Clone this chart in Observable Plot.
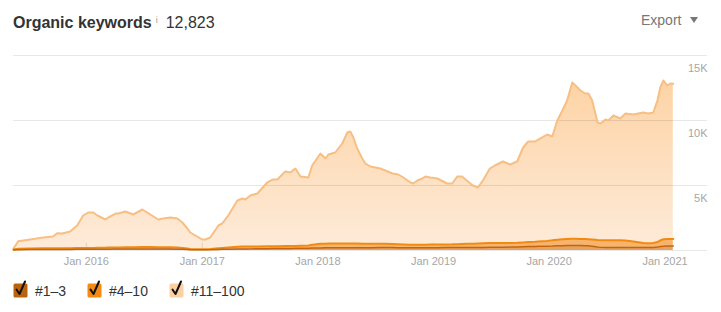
<!DOCTYPE html>
<html>
<head>
<meta charset="utf-8">
<script src="https://cdn.jsdelivr.net/npm/d3@7"></script>
<script src="https://cdn.jsdelivr.net/npm/@observablehq/plot@0.6"></script>
<style>
  html, body { margin: 0; padding: 0; background: #fff; }
  body { width: 721px; height: 312px; position: relative; overflow: hidden;
         font-family: "Liberation Sans", Arial, Helvetica, sans-serif; }
  #header { position: absolute; left: 13px; top: 10px; height: 20px; line-height: 20px; white-space: nowrap; }
  #title { font-size: 16px; font-weight: bold; color: #333; }
  #info { font-size: 9px; color: #999; vertical-align: 5px; margin-left: 4px; }
  #total { font-size: 16px; color: #333; margin-left: 8px; }
  #export { position: absolute; left: 641px; top: 10px; line-height: 20px; font-size: 14px; color: #777; white-space: nowrap; }
  #export svg { margin-left: 9px; vertical-align: 2px; }
  #chart { position: absolute; left: 0; top: 40px; }
  #legend { position: absolute; left: 13px; top: 279px; height: 22px; font-size: 14px; color: #333; }
  .item { position: absolute; top: 0; white-space: nowrap; }
  .item svg { position: absolute; left: 0; top: 0; }
  .item span { position: absolute; top: 4px; line-height: 16px; }
</style>
</head>
<body>
<div id="header"><span id="title">Organic keywords</span><span id="info">i</span><span id="total"></span></div>
<div id="export">Export<svg width="8" height="6"><polygon points="0,0 8,0 4,6" fill="#777"/></svg></div>
<div id="chart"></div>
<div id="legend"></div>
<script>
// ---- data ----
const totalLabel = "12,823";
const seriesNames = ["#1–3", "#4–10", "#11–100"];
const seriesFill = ["#e6a261", "#f7b46c", "url(#g11)"];
const seriesStroke = ["#c4650d", "#f28a12", "#f7bf84"];
const seriesStrokeWidth = [1.5, 2, 2];
const legendBox = ["#b9630f", "#f28a14", "#fcd0a0"];

const dates = [
"2015-05-16","2015-05-31","2015-07-08","2015-08-18","2015-09-18","2015-10-01","2015-10-17","2015-11-11","2015-12-03","2015-12-22",
"2016-01-07","2016-01-23","2016-02-05","2016-03-01","2016-03-10","2016-04-02","2016-04-11","2016-05-03","2016-05-28","2016-06-26",
"2016-07-21","2016-08-15","2016-08-31","2016-09-22","2016-10-14","2016-10-30","2016-11-15","2016-11-24","2016-12-10","2017-01-01",
"2017-01-11","2017-01-26","2017-02-21","2017-03-05","2017-03-24","2017-04-22","2017-05-08","2017-05-17","2017-06-02","2017-06-24",
"2017-07-25","2017-08-11","2017-08-26","2017-09-20","2017-10-06","2017-10-22","2017-11-07","2017-12-02","2017-12-14","2018-01-09",
"2018-01-25","2018-02-03","2018-02-25","2018-03-19","2018-04-04","2018-04-13","2018-04-23","2018-05-05","2018-05-21","2018-05-31",
"2018-06-16","2018-07-17","2018-08-02","2018-08-24","2018-09-12","2018-09-28","2018-10-20","2018-10-29","2018-11-11","2018-11-27",
"2018-12-06","2018-12-22","2019-01-13","2019-02-13","2019-03-01","2019-03-17","2019-04-01","2019-04-16","2019-05-05","2019-05-21",
"2019-06-06","2019-06-28","2019-07-14","2019-08-08","2019-08-31","2019-09-22","2019-10-11","2019-10-27","2019-11-18","2019-11-28",
"2019-12-26","2020-01-11","2020-01-27","2020-02-12","2020-02-27","2020-03-14","2020-03-24","2020-04-09","2020-04-24","2020-05-04",
"2020-05-16","2020-06-02","2020-06-11","2020-06-27","2020-07-06","2020-07-22","2020-08-13","2020-08-29","2020-09-23","2020-10-24",
"2020-11-09","2020-11-25","2020-12-08","2020-12-17","2020-12-27","2021-01-08","2021-01-18","2021-01-27"];

const r1_3 = [
40,50,70,80,80,80,80,85,90,90,
95,95,100,100,105,110,110,115,120,120,
120,115,115,110,100,90,70,60,50,50,
50,60,80,90,100,110,120,120,125,130,
140,145,150,155,160,165,170,175,190,200,
205,210,210,210,215,215,215,215,215,220,
220,225,225,225,220,215,210,210,210,215,
215,220,220,225,225,230,230,235,235,240,
240,245,250,255,260,265,280,300,310,320,
330,340,360,370,380,385,385,380,370,360,
330,270,250,240,235,235,235,235,230,225,
225,230,260,300,330,340,345,350];

const r4_10 = [
40,80,90,90,90,95,95,95,95,100,
105,105,110,120,120,125,130,135,135,140,
140,140,135,135,130,110,80,60,50,40,
40,50,90,110,140,170,180,180,180,180,
180,185,180,185,185,185,190,205,260,310,
315,320,320,320,320,320,320,315,310,300,
300,290,285,275,270,255,240,230,230,230,
235,235,240,245,250,260,270,275,285,300,
320,325,325,325,320,325,340,350,370,380,
410,440,470,500,510,515,515,510,510,510,
520,530,540,540,545,555,545,525,470,355,
335,350,390,480,540,550,545,530];

const r11_100 = [
70,585,686,830,907,1155,1133,1280,1738,2502,
2723,2723,2482,2165,2313,2611,2606,2750,2514,2894,
2509,2130,2211,2293,2231,1954,1542,1265,1054,756,
756,890,1753,1877,2452,3566,3700,3623,3926,4075,
4911,5131,5131,5737,5655,5958,5332,5235,6088,6951,
6557,6855,7008,7701,8542,8619,8157,7316,6552,6172,
5941,5793,5644,5423,5356,5145,4781,4714,4945,5093,
5242,5160,5078,4684,4679,5202,5192,4875,4480,4306,
4825,5738,5963,6266,6035,6256,7303,7735,7705,7838,
8183,7989,9170,9899,10648,12023,11792,11418,11197,11207,
10688,9046,8979,9297,9220,9595,9374,9778,9761,10035,
9978,10035,10888,11758,12207,11802,11956,11943];

const yTicks = [5000, 10000, 15000];
const yTickLabels = ["5K", "10K", "15K"];
const xTicks = ["2016-01-01", "2017-01-01", "2018-01-01", "2019-01-01", "2020-01-01", "2021-01-01"];
const xTickLabels = ["Jan 2016", "Jan 2017", "Jan 2018", "Jan 2019", "Jan 2020", "Jan 2021"];
const xDomain = ["2015-05-16", "2021-05-15"];

// ---- build table ----
const seriesValues = [r1_3, r4_10, r11_100];
const rows = [];
dates.forEach((d, i) => {
  seriesNames.forEach((s, k) => rows.push({date: new Date(d), series: s, value: seriesValues[k][i]}));
});
const xTickDates = xTicks.map(d => new Date(d));

const areaMarks = seriesNames.map((name, k) =>
  Plot.areaY(rows, Plot.filter(d => d.series === name,
    Plot.stackY({x: "date", y: "value", z: "series", order: seriesNames, fill: seriesFill[k], curve: "linear"}))));
const lineMarks = seriesNames.map((name, k) =>
  Plot.line(rows, Plot.filter(d => d.series === name,
    Plot.stackY2({x: "date", y: "value", z: "series", order: seriesNames,
      stroke: seriesStroke[k], strokeWidth: seriesStrokeWidth[k], strokeLinejoin: "round", curve: "linear"}))));

const chart = Plot.plot({
  width: 721,
  height: 235,
  marginLeft: 13,
  marginRight: 14,
  marginTop: 15,
  marginBottom: 25,
  style: {fontFamily: "'Liberation Sans', Arial, sans-serif", fontSize: "11px", background: "transparent", overflow: "visible"},
  x: {type: "utc", domain: xDomain.map(d => new Date(d)), axis: null},
  y: {domain: [0, 15000], axis: null},
  marks: [
    ...areaMarks,
    Plot.ruleY([0, ...yTicks], {stroke: "#000", strokeOpacity: 0.09}),
    Plot.ruleX(xTickDates, {y1: 0, y2: 550, stroke: "#c9b8a8", strokeOpacity: 0.5}),
    lineMarks[2], lineMarks[1], lineMarks[0],
    Plot.text(yTicks, {y: d => d, text: (d, i) => yTickLabels[i], frameAnchor: "right", textAnchor: "end", dy: 12.5, fill: "#a6a6a6", fontSize: 11}),
    Plot.text(xTickDates, {x: d => d, text: (d, i) => xTickLabels[i], frameAnchor: "bottom", dy: 14, fill: "#a6a6a6", fontSize: 11})
  ]
});

// gradient for the #11–100 area
const defs = d3.select(chart).insert("defs", ":first-child");
const g = defs.append("linearGradient").attr("id", "g11").attr("x1", 0).attr("y1", 0).attr("x2", 0).attr("y2", 1);
g.append("stop").attr("offset", "0%").attr("stop-color", "#fdd3a5");
g.append("stop").attr("offset", "100%").attr("stop-color", "#fdebd9");

document.getElementById("chart").appendChild(chart);
document.getElementById("total").textContent = totalLabel;

// legend
const legendX = [0, 74, 156];
const legend = document.getElementById("legend");
seriesNames.forEach((name, k) => {
  const item = document.createElement("div");
  item.className = "item";
  item.style.left = legendX[k] + "px";
  item.innerHTML = `<svg width="20" height="22"><rect x="0.5" y="4.5" width="14" height="14" rx="1.5" fill="${legendBox[k]}"/>` +
    `<path d="M3.5,10.5 L6.5,15 L12,2.5" fill="none" stroke="#111" stroke-width="2" stroke-linecap="round" stroke-linejoin="round"/></svg>` +
    `<span style="left:22px">${name}</span>`;
  legend.appendChild(item);
});
</script>
</body>
</html>
